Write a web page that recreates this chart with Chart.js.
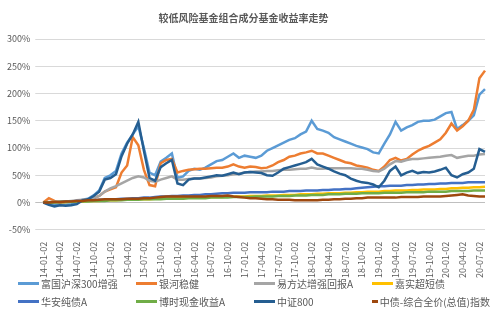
<!DOCTYPE html>
<html>
<head>
<meta charset="utf-8">
<script src="https://cdn.jsdelivr.net/npm/chart.js@4/dist/chart.umd.min.js"></script>
<style>
	body { margin: 0; background: #fff; }
	#wrap { position: relative; width: 499px; height: 316px; }
	#legend { position: absolute; left: 18px; top: 276px; display: grid; grid-template-columns: 118px 118px 118px 118px; row-gap: 4px; font: 10px "Noto Sans CJK SC", sans-serif; color: #595959; }
	#legend div { display: flex; align-items: center; height: 14px; white-space: nowrap; }
	#legend span { display: inline-block; width: 21px; height: 3px; margin-right: 2px; }
</style>
</head>
<body>
<div id="wrap">
	<canvas id="myChart" width="499" height="316"></canvas>
	<div id="legend"></div>
</div>
<script>
const seriesNames = ['富国沪深300增强', '银河稳健', '易方达增强回报A', '嘉实超短债', '华安纯债A', '博时现金收益A', '中证800', '中债-综合全价(总值)指数']
const seriesColors = ['#5b9bd5', '#ed7d31', '#a5a5a5', '#ffc000', '#4472c4', '#70ad47', '#255e91', '#9e480e']

// monthly values in %, Jan 2014 .. Aug 2020
const fuguo = [
	0, -2, -5, -3, -4, -3, -1, 5, 7, 13,
	22, 45, 50, 58, 90, 110, 125, 140, 100, 55,
	50, 75, 82, 90, 45, 48, 58, 62, 60, 64,
	70, 76, 78, 84, 90, 82, 86, 84, 82, 86,
	95, 100, 105, 110, 115, 118, 125, 130, 150, 135,
	132, 128, 120, 116, 112, 108, 104, 101, 98, 92,
	90, 108, 125, 148, 132, 138, 142, 148, 150, 150,
	152, 158, 164, 166, 135, 142, 150, 160, 198, 208
]
const yinhe = [
	0, 8, 3, 0, 1, 2, 3, 4, 5, 8,
	12, 20, 24, 28, 55, 68, 120, 105, 60, 32,
	30, 72, 78, 80, 55, 58, 60, 61, 62, 62,
	63, 64, 64, 66, 70, 66, 64, 66, 65, 63,
	64, 68, 74, 78, 84, 86, 90, 92, 95, 90,
	90, 86, 82, 78, 74, 72, 68, 66, 64, 60,
	58, 66, 78, 82, 77, 80, 88, 95, 100, 104,
	110, 116, 128, 145, 132, 140, 150, 170, 228, 242
]
const efunds = [
	0, 1, 1, 2, 2, 3, 4, 5, 6, 8,
	12, 20, 26, 30, 35, 40, 45, 48, 46, 40,
	38, 42, 45, 48, 42, 42, 43, 44, 44, 45,
	46, 48, 49, 50, 52, 53, 55, 56, 57, 57,
	58, 58, 59, 60, 60, 61, 62, 62, 64, 62,
	62, 63, 63, 63, 63, 63, 62, 62, 60, 58,
	57, 62, 70, 76, 75, 78, 80, 80, 81, 82,
	83, 84, 86, 87, 82, 84, 86, 86, 88, 89
]
const jiashi = [
	0, 0, 1, 1, 1, 2, 2, 2, 3, 3,
	3, 4, 4, 4, 5, 5, 5, 6, 6, 6,
	7, 7, 7, 8, 8, 8, 9, 9, 9, 10,
	10, 10, 10, 11, 11, 11, 11, 12, 12, 12,
	13, 13, 13, 14, 14, 14, 15, 15, 15, 16,
	16, 17, 17, 17, 18, 18, 19, 19, 20, 20,
	20, 21, 21, 22, 22, 22, 23, 23, 24, 24,
	24, 25, 25, 26, 26, 27, 27, 28, 28, 29
]
const huaan = [
	0, 0, 1, 1, 2, 2, 3, 3, 4, 4,
	5, 5, 6, 6, 7, 7, 8, 8, 9, 9,
	10, 11, 11, 12, 12, 13, 13, 14, 14, 15,
	15, 16, 17, 17, 18, 18, 18, 19, 19, 19,
	19, 20, 20, 20, 21, 21, 21, 22, 22, 22,
	23, 23, 24, 24, 25, 25, 26, 27, 28, 29,
	30, 30, 31, 31, 31, 32, 32, 33, 33, 34,
	34, 35, 35, 36, 36, 36, 37, 37, 37, 37
]
const boshi = [
	0, 0, 0, 1, 1, 1, 2, 2, 2, 3,
	3, 3, 4, 4, 4, 5, 5, 5, 6, 6,
	6, 6, 7, 7, 7, 7, 8, 8, 8, 8,
	9, 9, 9, 9, 10, 10, 10, 10, 11, 11,
	11, 11, 12, 12, 12, 13, 13, 13, 14, 14,
	14, 15, 15, 15, 16, 16, 16, 17, 17, 17,
	17, 18, 18, 18, 18, 19, 19, 19, 19, 20,
	20, 20, 20, 21, 21, 21, 21, 22, 22, 22
]
const csi800 = [
	0, -4, -7, -5, -6, -5, -3, 4, 6, 12,
	20, 42, 45, 52, 85, 108, 125, 148, 95, 45,
	40, 65, 72, 78, 35, 32, 42, 44, 44, 46,
	48, 50, 49, 52, 55, 52, 55, 56, 55, 54,
	50, 49, 55, 62, 65, 68, 71, 74, 80, 70,
	66, 62, 57, 53, 50, 44, 40, 37, 36, 33,
	28, 40, 58, 66, 50, 55, 58, 54, 56, 55,
	57, 60, 64, 50, 46, 52, 55, 62, 98, 93
]
const chinaBond = [
	0, 0, 1, 1, 2, 2, 3, 3, 4, 4,
	5, 6, 6, 6, 6, 7, 7, 7, 8, 8,
	9, 10, 11, 11, 11, 11, 11, 11, 11, 11,
	12, 12, 12, 13, 11, 10, 9, 8, 8, 7,
	6, 6, 5, 5, 5, 4, 4, 4, 4, 4,
	5, 5, 6, 6, 7, 7, 8, 8, 9, 9,
	9, 9, 9, 9, 10, 10, 10, 10, 11, 11,
	11, 11, 12, 13, 14, 15, 13, 12, 11, 11
]
const seriesValues = [fuguo, yinhe, efunds, jiashi, huaan, boshi, csi800, chinaBond]

// category labels, one per month, only quarters get shown
const categories = []
for (let y = 14; y <= 20; y++) {
	for (let m = 1; m <= 12; m++) {
		if (categories.length < fuguo.length) {
			categories.push(y + '-' + String(m).padStart(2, '0') + '-02')
		}
	}
}

Chart.defaults.font.family = '"Noto Sans CJK SC", "Noto Sans", sans-serif'
Chart.defaults.color = '#595959'

const datasets = seriesNames.map((name, i) => ({
	label: name,
	data: seriesValues[i],
	borderColor: seriesColors[i],
	backgroundColor: seriesColors[i],
	borderWidth: 2.5,
	pointRadius: 0,
	tension: 0,
	order: seriesNames.length - i // later series on top, like excel
}))

new Chart(document.getElementById('myChart'), {
	type: 'line',
	data: { labels: categories, datasets },
	options: {
		responsive: false,
		animation: false,
		devicePixelRatio: 1,
		layout: { padding: { left: 2, right: 14, top: 0, bottom: 34 } },
		plugins: {
			legend: { display: false },
			tooltip: { enabled: false },
			title: {
				display: true,
				text: '较低风险基金组合成分基金收益率走势',
				font: { size: 10, weight: 'bold' },
				color: '#595959',
				padding: { top: 12, bottom: 15 }
			}
		},
		scales: {
			x: {
				grid: { display: false },
				border: { display: false },
				ticks: {
					autoSkip: false,
					maxRotation: 90,
					minRotation: 90,
					font: { size: 9 },
					padding: 4,
					callback: (v, i) => i % 3 === 0 ? categories[i] : null
				}
			},
			y: {
				min: -50,
				max: 300,
				grid: {
					color: ctx => ctx.tick && ctx.tick.value === 0 ? '#bfbfbf' : '#d9d9d9'
				},
				border: { display: false },
				ticks: {
					stepSize: 50,
					font: { size: 9 },
					padding: 5,
					callback: v => v + '%'
				}
			}
		}
	}
})

const legend = document.getElementById('legend')
seriesNames.forEach((name, i) => {
	const item = document.createElement('div')
	item.innerHTML = '<span style="background:' + seriesColors[i] + '"></span>' + name
	legend.appendChild(item)
})
</script>
</body>
</html>
